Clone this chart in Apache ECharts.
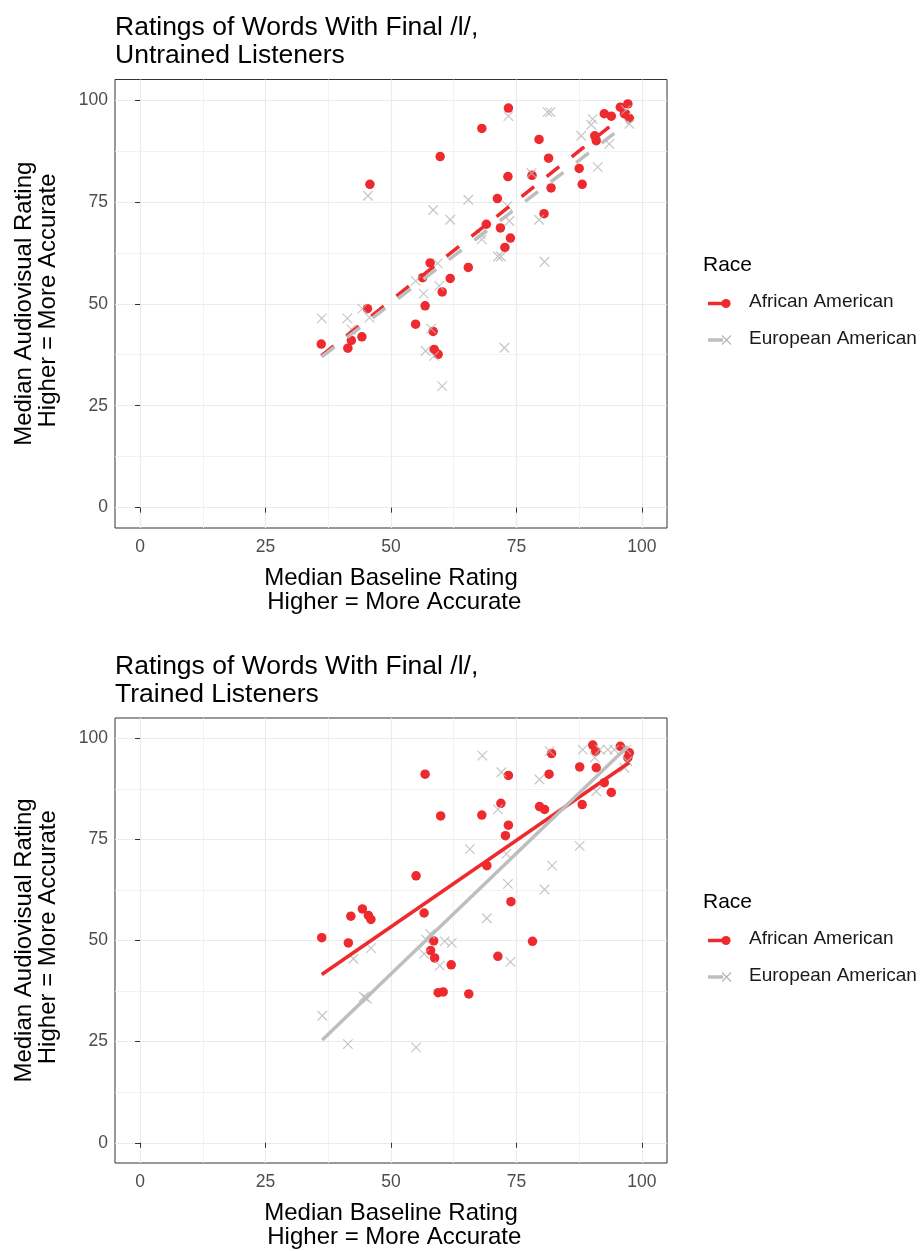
<!DOCTYPE html>
<html>
<head>
<meta charset="utf-8">
<script src="https://cdn.jsdelivr.net/npm/echarts@6/dist/echarts.min.js"></script>
<style>
html,body{margin:0;padding:0;background:#fff;}
#chart{width:920px;height:1251px;}
</style>
</head>
<body>
<div id="chart"></div>
<script>
// ---------- data ----------
const xTicks = [0, 25, 50, 75, 100];
const yTicks = [0, 25, 50, 75, 100];
const minorTicks = [12.5, 37.5, 62.5, 87.5];

const plotTitles = ['Ratings of Words With Final /l/,\nUntrained Listeners',
                    'Ratings of Words With Final /l/,\nTrained Listeners'];
const xTitle = 'Median Baseline Rating\n Higher = More Accurate';
const yTitle = 'Median Audiovisual Rating\n Higher = More Accurate';
const legendTitle = 'Race';
const groups = ['African American', 'European American'];

// Untrained listeners: [baseline, audiovisual]
const untrainedAA = [
  [73.4,98.0],[68.1,93.0],[59.8,86.1],[45.8,79.3],[79.5,90.3],[81.4,85.7],[73.3,81.2],[78.1,81.5],
  [87.5,83.2],[88.1,79.3],[81.9,78.4],[71.2,75.8],[80.5,72.1],[69.0,69.5],[71.8,68.6],[73.8,66.1],
  [97.2,99.0],[95.7,98.2],[96.5,96.6],[97.5,95.5],[92.5,96.6],[93.9,96.0],[90.6,91.2],[90.9,90.0],
  [72.7,63.8],[57.8,60.0],[65.4,58.9],[61.8,56.2],[56.3,56.4],[60.2,52.9],[45.3,48.8],[56.8,49.5],
  [54.9,45.0],[58.4,43.2],[44.2,41.9],[42.1,41.0],[41.4,39.1],[36.1,40.1],[58.6,38.8],[59.4,37.6]
];
const untrainedEA = [
  [73.4,96.0],[81.2,97.0],[81.8,97.0],[90.2,95.3],[89.9,93.9],[87.9,91.2],[97.5,94.1],[93.5,89.2],
  [91.2,83.5],[78.0,82.0],[65.4,75.5],[58.4,73.0],[61.8,70.6],[73.2,74.0],[79.5,70.6],[73.6,70.3],
  [45.4,76.5],[67.9,67.1],[68.1,65.8],[71.3,61.6],[71.9,61.6],[80.6,60.3],[59.3,59.9],[54.9,55.6],
  [56.5,52.5],[59.6,54.4],[44.3,48.8],[45.7,46.6],[36.2,46.4],[41.3,46.4],[42.1,43.7],[58.0,43.9],
  [56.9,38.4],[58.6,37.2],[72.6,39.2],[60.2,29.8],[96.8,97.5]
];
const untrainedFitAA = [[36.1,37.2],[97.5,97.3]];
const untrainedFitEA = [[36.2,37.0],[97.5,94.6]];

// Trained listeners
const trainedAA = [
  [56.8,91.1],[73.4,90.8],[82.0,96.2],[81.5,91.1],[87.6,92.9],[90.2,98.3],[90.8,96.8],[90.9,92.7],
  [95.7,98.0],[97.5,96.4],[97.2,95.2],[92.5,89.0],[93.9,86.6],[88.1,83.6],[79.6,83.1],[80.6,82.4],
  [71.9,83.9],[68.1,81.0],[59.9,80.8],[73.4,78.5],[72.8,75.9],[69.1,68.5],[55.0,66.0],[73.9,59.6],
  [44.3,57.8],[42.0,56.0],[45.5,56.2],[46.0,55.2],[56.6,56.8],[36.2,50.7],[41.5,49.4],[58.5,49.9],
  [78.2,49.8],[57.9,47.5],[58.7,45.7],[62.0,44.0],[71.3,46.1],[59.4,37.1],[60.4,37.3],[65.5,36.8]
];
const trainedEA = [
  [68.2,95.7],[72.0,91.6],[79.6,89.8],[81.6,96.8],[88.2,97.2],[91.6,97.2],[93.2,97.2],[94.5,97.2],
  [96.9,97.2],[90.6,95.2],[97.1,94.3],[90.9,86.9],[71.3,82.4],[65.7,72.6],[87.6,73.4],[73.0,71.4],
  [82.1,68.5],[73.3,64.0],[80.6,62.6],[69.1,55.5],[73.8,44.7],[57.0,50.2],[57.8,51.6],[60.7,49.8],
  [62.1,49.4],[56.6,46.7],[59.7,43.8],[46.0,48.1],[42.5,45.5],[44.6,36.1],[45.2,35.6],[36.3,31.4],
  [41.4,24.4],[55.0,23.6],[96.5,92.7]
];
const trainedFitAA = [[36.2,41.6],[97.5,94.0]];
const trainedFitEA = [[36.3,25.4],[97.2,98.0]];

// ---------- styling ----------
const FONT = "'Liberation Sans', Arial, Helvetica, sans-serif";
const RED = '#EE2A2E';
const GREY_LINE = '#BEBEBE';
const GREY_PT = '#B8B8B8';
const X_PATH = 'path://M0,0L10,10M10,0L0,10';

const panels = [
  {title: plotTitles[0], aa: untrainedAA, ea: untrainedEA, fitAA: untrainedFitAA, fitEA: untrainedFitEA,
   dashed: true, top: 79.5, height: 448.5, titleTop: 14, legendY: 267},
  {title: plotTitles[1], aa: trainedAA, ea: trainedEA, fitAA: trainedFitAA, fitEA: trainedFitEA,
   dashed: false, top: 718, height: 447, titleTop: 652.5, legendY: 904}
];
const LEFT = 115, WIDTH = 552;

const option = {
  animation: false,
  backgroundColor: '#ffffff',
  textStyle: {fontFamily: FONT},
  title: [], grid: [], xAxis: [], yAxis: [], series: [], graphic: []
};

panels.forEach((p, i) => {
  option.title.push({
    text: p.title, left: LEFT, top: p.titleTop, padding: 0,
    textStyle: {fontFamily: FONT, fontSize: 26.5, fontWeight: 'normal', color: '#000', lineHeight: 28}
  });
  option.grid.push({
    left: LEFT, top: p.top, width: WIDTH, height: p.height,
    show: true, borderColor: '#333333', borderWidth: 1, backgroundColor: '#ffffff', containLabel: false
  });
  // main axes
  option.xAxis.push({
    type: 'value', gridIndex: i, min: -5, max: 105, position: 'bottom',
    axisLine: {show: false},
    axisTick: {show: true, length: 5, customValues: xTicks, lineStyle: {color: '#333333', width: 1}},
    axisLabel: {show: true, customValues: xTicks, color: '#4D4D4D', fontSize: 17.5, fontFamily: FONT, margin: 10},
    splitLine: {show: true, lineStyle: {color: '#EBEBEB', width: 1.2}},
    name: xTitle, nameLocation: 'middle', nameGap: 38,
    nameTextStyle: {fontFamily: FONT, fontSize: 24, color: '#000', lineHeight: 24.5}
  });
  option.xAxis.push({
    type: 'value', gridIndex: i, min: -5, max: 105, position: 'bottom',
    axisLine: {show: false},
    axisTick: {show: false, customValues: minorTicks},
    axisLabel: {show: false, customValues: minorTicks},
    splitLine: {show: true, lineStyle: {color: '#F0F0F0', width: 0.9}}
  });
  option.yAxis.push({
    type: 'value', gridIndex: i, min: -5, max: 105, position: 'left',
    axisLine: {show: false},
    axisTick: {show: true, length: 5, customValues: yTicks, lineStyle: {color: '#333333', width: 1}},
    axisLabel: {show: true, customValues: yTicks, color: '#4D4D4D', fontSize: 17.5, fontFamily: FONT, margin: 7},
    splitLine: {show: true, lineStyle: {color: '#EBEBEB', width: 1.2}},
    name: yTitle, nameLocation: 'middle', nameGap: 55, nameRotate: 90,
    nameTextStyle: {fontFamily: FONT, fontSize: 24, color: '#000', lineHeight: 24}
  });
  option.yAxis.push({
    type: 'value', gridIndex: i, min: -5, max: 105, position: 'left',
    axisLine: {show: false},
    axisTick: {show: false, customValues: minorTicks},
    axisLabel: {show: false, customValues: minorTicks},
    splitLine: {show: true, lineStyle: {color: '#F0F0F0', width: 0.9}}
  });
  const xi = 2 * i, yi = 2 * i;
  option.series.push({
    type: 'scatter', name: groups[0], xAxisIndex: xi, yAxisIndex: yi, data: p.aa,
    symbol: 'circle', symbolSize: 9.5, itemStyle: {color: RED, opacity: 1}, silent: true, z: 3
  });
  option.series.push({
    type: 'scatter', name: groups[1], xAxisIndex: xi, yAxisIndex: yi, data: p.ea,
    symbol: X_PATH, symbolSize: 9.5,
    itemStyle: {color: 'rgba(0,0,0,0)', borderColor: GREY_PT, borderWidth: 1.2}, silent: true, z: 4
  });
  const lineType = p.dashed ? [16, 16] : 'solid';
  option.series.push({
    type: 'line', name: groups[0] + ' fit', xAxisIndex: xi, yAxisIndex: yi, data: p.fitAA,
    showSymbol: false, symbol: 'none', silent: true, z: 5,
    lineStyle: {color: RED, width: 3.5, type: lineType, cap: 'butt'}
  });
  option.series.push({
    type: 'line', name: groups[1] + ' fit', xAxisIndex: xi, yAxisIndex: yi, data: p.fitEA,
    showSymbol: false, symbol: 'none', silent: true, z: 6,
    lineStyle: {color: GREY_LINE, width: 3.5, type: lineType, cap: 'butt'}
  });

  // legend (drawn as graphic)
  const ly = p.legendY;
  const y1 = ly + 36.5, y2 = ly + 73;
  option.graphic.push(
    {type: 'text', left: 703, top: ly - 12.5, style: {text: legendTitle, font: '21px ' + FONT, fill: '#000'}},
    {type: 'line', shape: {x1: 708, y1: y1, x2: 725, y2: y1}, style: {stroke: RED, lineWidth: 3.5}},
    {type: 'circle', shape: {cx: 726, cy: y1, r: 4.6}, style: {fill: RED}},
    {type: 'text', left: 749, top: y1 - 11, style: {text: groups[0], font: '19px ' + FONT, fill: '#1A1A1A'}},
    {type: 'line', shape: {x1: 708, y1: y2, x2: 723, y2: y2}, style: {stroke: GREY_LINE, lineWidth: 3.5}},
    {type: 'line', shape: {x1: 722, y1: y2 - 4.5, x2: 731, y2: y2 + 4.5}, style: {stroke: GREY_PT, lineWidth: 1.2}},
    {type: 'line', shape: {x1: 722, y1: y2 + 4.5, x2: 731, y2: y2 - 4.5}, style: {stroke: GREY_PT, lineWidth: 1.2}},
    {type: 'text', left: 749, top: y2 - 11, style: {text: groups[1], font: '19px ' + FONT, fill: '#1A1A1A'}}
  );
});

const chart = echarts.init(document.getElementById('chart'), null, {renderer: 'canvas'});
chart.setOption(option);
</script>
</body>
</html>
